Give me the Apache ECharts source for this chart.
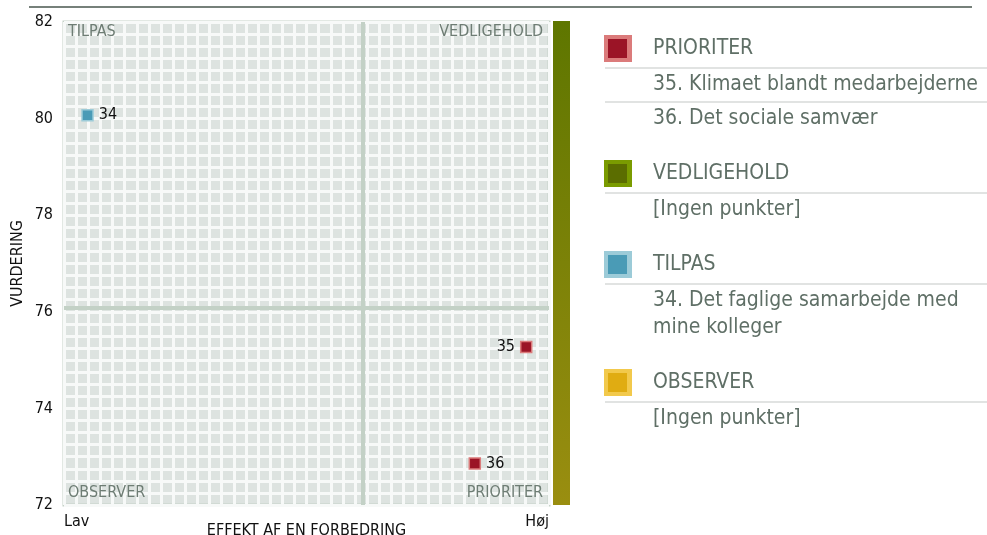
<!DOCTYPE html>
<html>
<head>
<meta charset="utf-8">
<style>
  html, body { margin: 0; padding: 0; background: #fff; }
  #chart { width: 987px; height: 535px; }
</style>
<script src="https://cdn.jsdelivr.net/npm/echarts@6/dist/echarts.min.js"></script>
</head>
<body>
<div id="chart"></div>
<script>
// data
const pointIds = ['34', '35', '36'];
const effekt = [4.85, 95.3, 84.7];
const vurdering = [80.07, 75.27, 72.86];
const pointQuadrant = ['TILPAS', 'PRIORITER', 'PRIORITER'];

const quadrants = ['PRIORITER', 'VEDLIGEHOLD', 'TILPAS', 'OBSERVER'];
const quadrantItems = [
  ['35. Klimaet blandt medarbejderne', '36. Det sociale samvær'],
  [],
  ['34. Det faglige samarbejde med\nmine kolleger'],
  []
];
const emptyText = '[Ingen punkter]';
const xEndLabels = ['Lav', 'Høj'];
const splitEffekt = 61.5;
const splitVurdering = 76.08;
const yMin = 72, yMax = 82;

// styles
const FONT = '"DejaVu Sans Condensed", "DejaVu Sans", sans-serif';
const fill = { PRIORITER: '#9b1426', VEDLIGEHOLD: '#5b6d00', TILPAS: '#4a9bb6', OBSERVER: '#e0ac12' };
const edge = { PRIORITER: '#db7b7b', VEDLIGEHOLD: '#7a9b00', TILPAS: '#9ccbd8', OBSERVER: '#f2c94c' };
const G = { left: 64, right: 438, top: 22, bottom: 30 };
const W = 987, H = 535;
const gx0 = G.left, gx1 = W - G.right, gy0 = G.top, gy1 = H - G.bottom;

const chart = echarts.init(document.getElementById('chart'));

const series = quadrants.map(q => ({
  name: q,
  type: 'scatter',
  symbol: 'rect',
  symbolSize: 11,
  z: 5,
  itemStyle: { color: fill[q], borderColor: edge[q], borderWidth: 1.5, opacity: 1 },
  data: pointIds
    .map((id, i) => ({ i, id }))
    .filter(p => pointQuadrant[p.i] === q)
    .map(p => ({
      name: p.id,
      value: [effekt[p.i], vurdering[p.i]],
      label: { position: effekt[p.i] > 90 ? 'left' : 'right' }
    })),
  label: {
    show: true, formatter: '{b}', color: '#111', fontSize: 16, fontFamily: FONT, distance: 5
  }
}));

series[0].markLine = {
  silent: true,
  symbol: 'none',
  label: { show: false },
  lineStyle: { color: '#c3d1c6', width: 4, type: 'solid' },
  data: [{ xAxis: splitEffekt }, { yAxis: splitVurdering }],
  z: 2
};

// quadrant corner labels
const corner = {
  TILPAS: { x: gx0 + 4, y: gy0 + 10, align: 'left' },
  VEDLIGEHOLD: { x: gx1 - 6, y: gy0 + 10, align: 'right' },
  OBSERVER: { x: gx0 + 4, y: gy1 - 12, align: 'left' },
  PRIORITER: { x: gx1 - 6, y: gy1 - 12, align: 'right' }
};
const graphic = quadrants.map(q => ({
  type: 'text', x: corner[q].x, y: corner[q].y, z: 10,
  style: { text: q, fill: '#6e7d74', font: '16px ' + FONT, textAlign: corner[q].align, textVerticalAlign: 'middle' }
}));

// colour bar and top rule
graphic.push({
  type: 'rect', shape: { x: 553, y: gy0 - 1, width: 17, height: gy1 - gy0 + 1 },
  style: { fill: new echarts.graphic.LinearGradient(0, 0, 0, 1, [
    { offset: 0, color: '#5e7600' }, { offset: 1, color: '#9a8e10' }
  ]) }
});
graphic.push({
  type: 'line', shape: { x1: 29, y1: 7, x2: 972, y2: 7 },
  style: { stroke: '#76807a', lineWidth: 2 }
});

// legend blocks
let y = 49;
const lx = 604, tx = 653, lineH = 27;
quadrants.forEach((q, qi) => {
  graphic.push({ type: 'rect', shape: { x: lx, y: y - 14, width: 28, height: 27 }, style: { fill: edge[q] } });
  graphic.push({ type: 'rect', shape: { x: lx + 4, y: y - 10, width: 19, height: 19 }, style: { fill: fill[q] } });
  graphic.push({ type: 'text', x: tx, y: y, style: { text: q, fill: '#5f6f66', font: '21px ' + FONT, textVerticalAlign: 'middle' } });
  graphic.push({ type: 'line', shape: { x1: lx + 1, y1: y + 19, x2: W, y2: y + 19 }, style: { stroke: '#e1e3e2', lineWidth: 2 } });
  const items = quadrantItems[qi].length ? quadrantItems[qi] : [emptyText];
  let cy = y + 36;
  items.forEach((t, k) => {
    const n = t.split('\n').length;
    graphic.push({ type: 'text', x: tx, y: cy - lineH / 2, style: { text: t, fill: '#5f6f66', font: '21px ' + FONT, lineHeight: lineH, textVerticalAlign: 'top' } });
    const last = cy + (n - 1) * lineH;
    if (k < items.length - 1) {
      graphic.push({ type: 'line', shape: { x1: lx + 1, y1: last + 17, x2: W, y2: last + 17 }, style: { stroke: '#e1e3e2', lineWidth: 2 } });
    }
    cy = last + 34;
  });
  y = cy - 34 + 55;
});

chart.setOption({
  animation: false,
  backgroundColor: '#fff',
  textStyle: { fontFamily: FONT },
  grid: {
    left: G.left, right: G.right, top: G.top, bottom: G.bottom,
    outerBoundsMode: 'none', containLabel: false,
    show: true, backgroundColor: '#dde3e0', borderColor: '#c5d2c8', borderWidth: 3
  },
  xAxis: {
    type: 'value', min: 0, max: 100, interval: 2.5,
    name: 'EFFEKT AF EN FORBEDRING', nameLocation: 'middle', nameGap: 18,
    nameMoveOverlap: false,
    nameTextStyle: { fontSize: 16, color: '#111', fontFamily: FONT, verticalAlign: 'top' },
    axisLine: { show: false }, axisTick: { show: false },
    splitLine: { show: true, lineStyle: { color: '#f7f9f8', width: 3 } },
    axisLabel: {
      interval: 0, margin: 9, fontSize: 16, color: '#111', fontFamily: FONT,
      alignMinLabel: 'left', alignMaxLabel: 'right',
      formatter: v => v === 0 ? xEndLabels[0] : (v === 100 ? xEndLabels[1] : '')
    }
  },
  yAxis: {
    type: 'value', min: yMin, max: yMax, interval: 0.25,
    name: 'VURDERING', nameLocation: 'middle', nameGap: 38, nameRotate: 90,
    nameMoveOverlap: false,
    nameTextStyle: { fontSize: 16, color: '#111', fontFamily: FONT },
    axisLine: { show: false }, axisTick: { show: false },
    splitLine: { show: true, lineStyle: { color: '#f7f9f8', width: 3 } },
    axisLabel: {
      interval: 0, margin: 11, fontSize: 16, color: '#111', fontFamily: FONT,
      formatter: v => (Math.abs(v % 2) < 1e-6 ? String(v) : '')
    }
  },
  graphic: graphic,
  series: series
});
</script>
</body>
</html>
